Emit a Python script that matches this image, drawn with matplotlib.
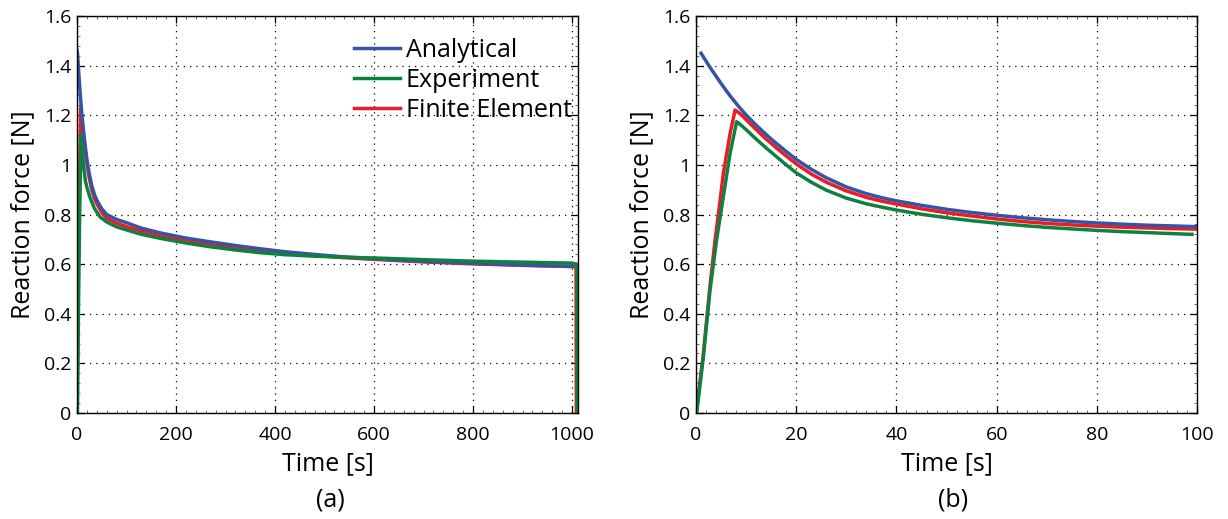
import matplotlib.pyplot as plt
from matplotlib.ticker import MultipleLocator, FuncFormatter

plt.rcParams['font.family'] = ['Open Sans', 'DejaVu Sans']

# ---- (a) full 1000 s test ----
t_an_a = [0, 1, 2, 3, 4, 6, 8, 10, 12, 14, 17, 20, 25, 30, 35, 40, 50, 60, 80, 100, 130, 168, 220,
          269, 320, 370, 420, 480, 540, 613, 700, 800, 900, 1000]
f_an_a = [1.46, 1.45, 1.418, 1.387, 1.357, 1.30, 1.248, 1.201, 1.16, 1.122, 1.07, 1.022, 0.962, 0.915,
          0.882, 0.858, 0.823, 0.80, 0.78, 0.767, 0.745, 0.726, 0.705, 0.69, 0.675, 0.662, 0.65,
          0.639, 0.629, 0.62, 0.611, 0.603, 0.596, 0.59]

t_ex_a = [0, 1, 3, 5, 8, 9, 10, 13, 17, 20, 26, 35, 46.6, 60, 80, 100, 130, 168, 220, 269, 320, 370,
          420, 480, 540, 613, 700, 800, 900, 1000, 1010, 1010.3]
f_ex_a = [0, 0, 0.42, 0.75, 1.12, 1.09, 1.07, 1.0, 0.935, 0.91, 0.87, 0.825, 0.79, 0.77, 0.75, 0.738,
          0.72, 0.704, 0.685, 0.67, 0.657, 0.646, 0.638, 0.632, 0.628, 0.624, 0.618, 0.612, 0.608,
          0.604, 0.60, 0]

t_fe_a = [0, 2, 4, 6, 7.5, 9, 10, 12, 14, 17, 20, 25, 30, 35, 40, 50, 60, 80, 100, 130, 168, 220,
          269, 320, 370, 420, 480, 540, 613, 700, 800, 900, 1000, 1008, 1008.3, 1008.6]
f_fe_a = [0, 0.48, 0.76, 1.05, 1.23, 1.20, 1.18, 1.142, 1.104, 1.052, 1.004, 0.945, 0.898, 0.865,
          0.843, 0.808, 0.785, 0.765, 0.751, 0.733, 0.714, 0.695, 0.68, 0.667, 0.655, 0.645, 0.635,
          0.626, 0.618, 0.609, 0.601, 0.595, 0.591, 0.59, 0.28, 0]

# ---- (b) first 100 s ----
t_an_b = [1, 2, 3, 4, 5, 6, 7, 8, 9, 10, 12, 14, 16, 18, 20, 23, 26, 30, 34, 37, 40, 45, 50, 55, 60,
          65, 70, 75, 80, 85, 90, 95, 100]
f_an_b = [1.45, 1.418, 1.387, 1.357, 1.328, 1.30, 1.273, 1.248, 1.224, 1.201, 1.16, 1.122, 1.087,
          1.054, 1.022, 0.982, 0.948, 0.911, 0.884, 0.868, 0.855, 0.837, 0.821, 0.808, 0.797,
          0.787, 0.779, 0.772, 0.766, 0.761, 0.757, 0.754, 0.751]

t_ex_b = [0.13, 1.47, 2.8, 4.1, 5.45, 6.8, 8.1, 9, 10, 12, 14, 16, 18, 20, 23, 26, 30, 34, 37, 40,
          45, 50, 55, 60, 65, 70, 75, 80, 85, 90, 95, 99]
f_ex_b = [0, 0.227, 0.496, 0.697, 0.872, 1.047, 1.174, 1.16, 1.142, 1.104, 1.068, 1.034, 1.0, 0.968,
          0.93, 0.898, 0.866, 0.843, 0.83, 0.818, 0.801, 0.787, 0.775, 0.765, 0.756, 0.748,
          0.742, 0.736, 0.731, 0.727, 0.723, 0.72]

t_fe_b = [0, 1.4, 2.7, 3.8, 4.7, 5.45, 6.8, 7.8, 9, 10, 12, 14, 16, 18, 20, 23, 26, 30, 34, 37, 40,
          45, 50, 55, 60, 65, 70, 75, 80, 85, 90, 95, 100]
f_fe_b = [0, 0.227, 0.496, 0.697, 0.84, 0.966, 1.127, 1.221, 1.203, 1.182, 1.142, 1.104, 1.069,
          1.036, 1.004, 0.963, 0.93, 0.895, 0.869, 0.854, 0.842, 0.823, 0.807, 0.794, 0.782,
          0.772, 0.764, 0.758, 0.753, 0.749, 0.746, 0.743, 0.741]

labels = ['Analytical', 'Experiment', 'Finite Element']
blue = '#3953a4'
green = '#0d8240'
red = '#ed1c24'

fig = plt.figure(figsize=(12.28, 5.19), dpi=100)
ax_a = fig.add_axes([0.0627, 0.2042, 0.408, 0.765])
ax_b = fig.add_axes([0.5668, 0.2042, 0.408, 0.765])


def fmt(v, pos):
    return f"{v:g}"


def style(ax, xmax, xmajor, xminor):
    ax.set_xlim(0, xmax)
    ax.set_ylim(0, 1.6)
    ax.xaxis.set_major_locator(MultipleLocator(xmajor))
    ax.xaxis.set_minor_locator(MultipleLocator(xminor))
    ax.yaxis.set_major_locator(MultipleLocator(0.2))
    ax.yaxis.set_minor_locator(MultipleLocator(0.04))
    ax.yaxis.set_major_formatter(FuncFormatter(fmt))
    ax.tick_params(which='both', direction='in', top=True, right=True, labelsize=14)
    ax.tick_params(axis='x', pad=9)
    ax.tick_params(axis='y', pad=4)
    ax.tick_params(which='major', length=5, width=0.9)
    ax.tick_params(which='minor', length=2.5, width=0.6, color='#555555')
    ax.grid(True, which='major', linestyle=(0, (1, 4)), color='black', linewidth=0.9)
    for s in ax.spines.values():
        s.set_linewidth(1.0)
    ax.set_xlabel('Time [s]', fontsize=18, labelpad=5.5)
    ax.set_ylabel('Reaction force [N]', fontsize=18, labelpad=6)


lw = 2.5
ax_a.plot(t_fe_a, f_fe_a, color=red, lw=lw, label=labels[2])
ax_a.plot(t_an_a, f_an_a, color=blue, lw=lw, label=labels[0])
ax_a.plot(t_ex_a, f_ex_a, color=green, lw=lw, label=labels[1])
style(ax_a, 1012, 200, 20)
h, l = ax_a.get_legend_handles_labels()
order = [1, 2, 0]
ax_a.legend([h[i] for i in order], [l[i] for i in order], loc='upper left', frameon=False,
            fontsize=18, handlelength=1.85, handletextpad=0.24, labelspacing=0.2,
            borderpad=0, borderaxespad=0, bbox_to_anchor=(0.552, 0.945))

ax_b.plot(t_fe_b, f_fe_b, color=red, lw=lw)
ax_b.plot(t_an_b, f_an_b, color=blue, lw=lw)
ax_b.plot(t_ex_b, f_ex_b, color=green, lw=lw)
style(ax_b, 100, 20, 2)

fig.text(0.2689, 0.037, '(a)', ha='center', va='center', fontsize=18)
fig.text(0.776, 0.037, '(b)', ha='center', va='center', fontsize=18)

fig.savefig('out.png', dpi=100)
